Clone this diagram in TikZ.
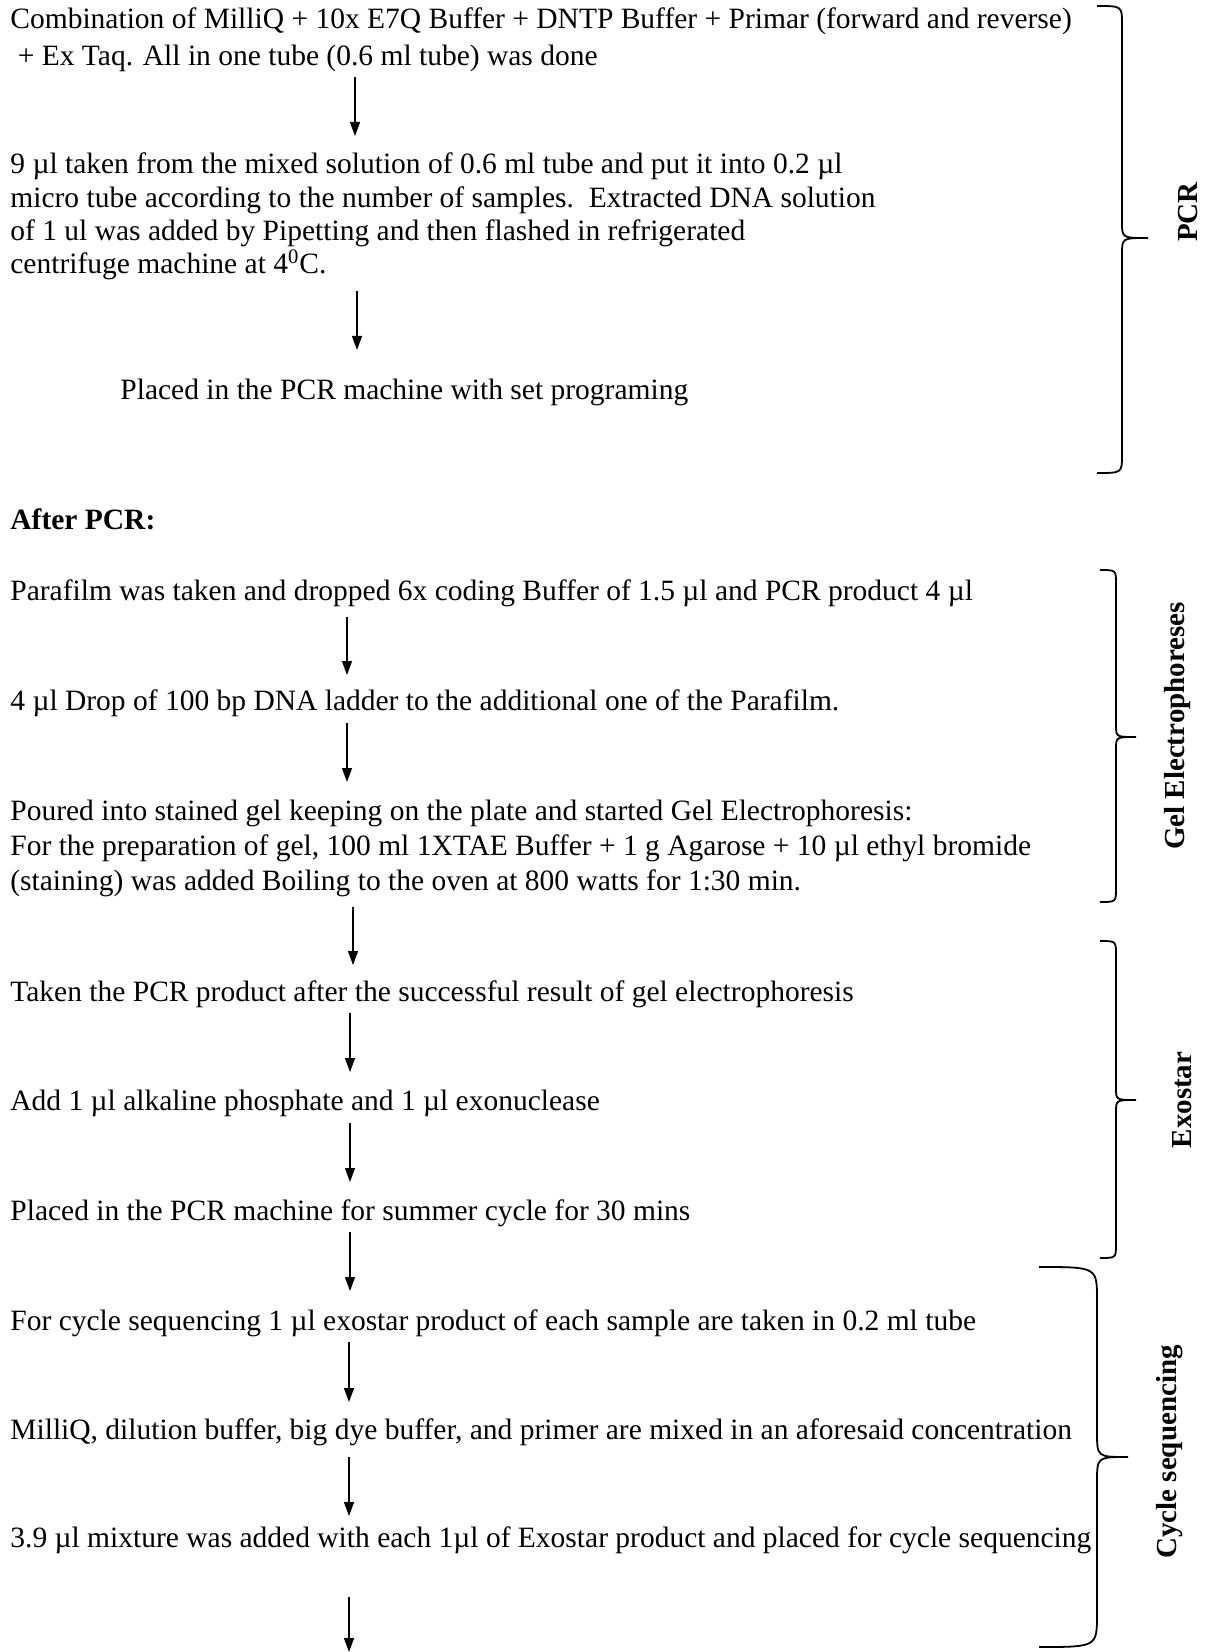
\documentclass[tikz,border=0pt]{standalone}
\usepackage{fontspec}
\setmainfont{Liberation Serif}
\usetikzlibrary{arrows.meta}
\tikzset{
	stage/.style={anchor=base west, inner sep=0pt, align=left, font=\fontsize{14.75}{16.7}\selectfont},
	flow/.style={line width=0.65pt, -{Triangle[length=7pt,width=5pt]}},
	curly/.style={line width=0.9pt},
	phase/.style={rotate=90, inner sep=0pt, font=\fontsize{14.5}{16}\selectfont\bfseries},
}
\begin{document}
\begin{tikzpicture}[x=0.5pt, y=-0.5pt]
	\useasboundingbox (0,0) rectangle (1209,1652);
	% steps (multi-line nodes sit on their last baseline)
	\node[stage, font=\fontsize{14.75}{18.5}\selectfont] (S1) at (10,66) {Combination of MilliQ + 10x E7Q Buffer + DNTP Buffer + Primar (forward and reverse)\\\hspace{0.25em}+ Ex Taq. All in one tube (0.6 ml tube) was done};
	\node[stage] (S2) at (10,274) {9 µl taken from the mixed solution of 0.6 ml tube and put it into 0.2 µl\\micro tube according to the number of samples.\ \ Extracted DNA solution\\of 1 ul was added by Pipetting and then flashed in refrigerated\\centrifuge machine at 4\textsuperscript{0}C.};
	\node[stage] (S3) at (120,400) {Placed in the PCR machine with set programing};
	\node[stage, font=\fontsize{14.75}{16.7}\selectfont\bfseries] (H) at (10,529) {After PCR:};
	\node[stage] (S4) at (10,600) {Parafilm was taken and dropped 6x coding Buffer of 1.5 µl and PCR product 4 µl};
	\node[stage] (S5) at (10,710) {4 µl Drop of 100 bp DNA ladder to the additional one of the Parafilm.};
	\node[stage, font=\fontsize{14.75}{17.5}\selectfont] (S6) at (10,890) {Poured into stained gel keeping on the plate and started Gel Electrophoresis:\\For the preparation of gel, 100 ml 1XTAE Buffer + 1 g Agarose + 10 µl ethyl bromide\\(staining) was added Boiling to the oven at 800 watts for 1:30 min.};
	\node[stage] (S7) at (10,1001) {Taken the PCR product after the successful result of gel electrophoresis};
	\node[stage] (S8) at (10,1110) {Add 1 µl alkaline phosphate and 1 µl exonuclease};
	\node[stage] (S9) at (10,1220) {Placed in the PCR machine for summer cycle for 30 mins};
	\node[stage] (S10) at (10,1330) {For cycle sequencing 1 µl exostar product of each sample are taken in 0.2 ml tube};
	\node[stage] (S11) at (10,1439) {MilliQ, dilution buffer, big dye buffer, and primer are mixed in an aforesaid concentration};
	\node[stage] (S12) at (10,1547) {3.9 µl mixture was added with each 1µl of Exostar product and placed for cycle sequencing};
	% arrows
	\coordinate (A1) at (355,77);   \coordinate (B1) at (355,136);
	\coordinate (A2) at (357,291);  \coordinate (B2) at (357,350);
	\coordinate (A3) at (347,617);  \coordinate (B3) at (347,675);
	\coordinate (A4) at (347,723);  \coordinate (B4) at (347,782);
	\coordinate (A5) at (353,907);  \coordinate (B5) at (353,965);
	\coordinate (A6) at (350,1013); \coordinate (B6) at (350,1072);
	\coordinate (A7) at (350,1123); \coordinate (B7) at (350,1182);
	\coordinate (A8) at (350,1232); \coordinate (B8) at (350,1291);
	\coordinate (A9) at (349,1342); \coordinate (B9) at (349,1402);
	\coordinate (A10) at (349,1457); \coordinate (B10) at (349,1516);
	\coordinate (A11) at (349,1597); \coordinate (B11) at (349,1652);
	\foreach \i in {1,...,11}
		\draw[flow] (A\i) -- (B\i);
	% braces
	\draw[curly] (1097,6) .. controls (1122,6) .. (1122,24) -- (1122,222) .. controls (1122,238) .. (1148,238) .. controls (1122,238) .. (1122,254) -- (1122,455) .. controls (1122,473) .. (1097,473);
	\draw[curly] (1100,570) .. controls (1116,570) .. (1116,584) -- (1116,725) .. controls (1116,737) .. (1136,737) .. controls (1116,737) .. (1116,749) -- (1116,888) .. controls (1116,902) .. (1100,902);
	\draw[curly] (1100,941) .. controls (1116,941) .. (1116,955) -- (1116,1088) .. controls (1116,1100) .. (1136,1100) .. controls (1116,1100) .. (1116,1112) -- (1116,1244) .. controls (1116,1258) .. (1100,1258);
	\draw[curly] (1039,1267) .. controls (1097,1267) .. (1097,1300) -- (1097,1432) .. controls (1097,1457) .. (1128,1457) .. controls (1097,1457) .. (1097,1482) -- (1097,1614) .. controls (1097,1647) .. (1039,1647);
	% phase labels
	\node[phase] (L1) at (1188,212) {PCR};
	\node[phase] (L2) at (1178,726) {Gel Electrophoreses};
	\node[phase] (L3) at (1182,1100) {Exostar};
	\node[phase] (L4) at (1170,1452) {Cycle sequencing};
\end{tikzpicture}
\end{document}
